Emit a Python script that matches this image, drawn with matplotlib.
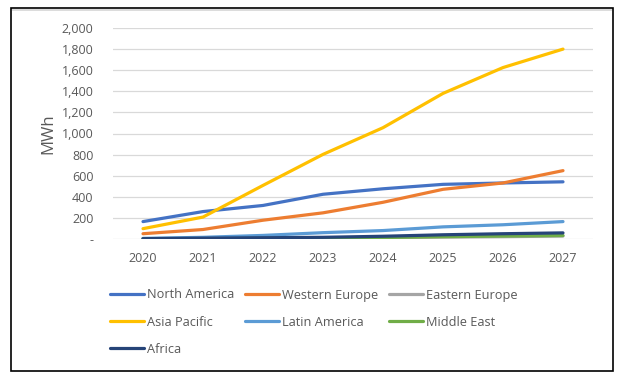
import numpy as np
import matplotlib.pyplot as plt
from matplotlib.patches import Rectangle
from matplotlib.ticker import FuncFormatter

plt.rcParams['font.family'] = ['Open Sans', 'DejaVu Sans']

years = ['2020', '2021', '2022', '2023', '2024', '2025', '2026', '2027']
north_america = [165, 260, 318, 424, 476, 518, 531, 542]
western_europe = [50, 90, 178, 248, 348, 471, 531, 648]
eastern_europe = [2, 4, 6, 8, 12, 18, 22, 28]
asia_pacific = [98, 208, 508, 802, 1055, 1380, 1625, 1800]
latin_america = [6, 16, 34, 60, 80, 115, 135, 165]
middle_east = [1, 3, 5, 8, 14, 22, 28, 33]
africa = [3, 8, 12, 16, 26, 40, 50, 58]

series = [
    ("North America", north_america, '#4472C4'),
    ("Western Europe", western_europe, '#ED7D31'),
    ("Eastern Europe", eastern_europe, '#A5A5A5'),
    ("Asia Pacific", asia_pacific, '#FFC000'),
    ("Latin America", latin_america, '#5B9BD5'),
    ("Middle East", middle_east, '#70AD47'),
    ("Africa", africa, '#264478'),
]

W, H = 624, 376
fig = plt.figure(figsize=(W / 100, H / 100), dpi=100)
ax = fig.add_axes([113 / W, 1 - 239 / H, 480 / W, 211 / H])

x = np.arange(len(years))
lines = []
for name, vals, col in series:
    ln, = ax.plot(x, vals, color=col, lw=2.3, label=name, solid_capstyle='round')
    lines.append(ln)

ax.set_xlim(-0.5, len(years) - 0.5)
ax.set_ylim(0, 2000)
ax.set_yticks(np.arange(0, 2001, 200))
ax.yaxis.set_major_formatter(FuncFormatter(lambda v, p: '-' if v == 0 else f'{int(v):,}'))
ax.set_xticks(x)
ax.set_xticklabels(years)
ax.grid(axis='y', color='#D9D9D9', lw=0.9)
ax.set_axisbelow(True)
for s in ax.spines.values():
    s.set_visible(False)
ax.tick_params(length=0, colors='#595959', labelsize=9)
ax.tick_params(axis='y', pad=14)
ax.tick_params(axis='x', pad=9)
ax.set_ylabel("MWh", color='#595959', fontsize=12, labelpad=4)

# legend filled row by row like Excel
order = [0, 3, 6, 1, 4, 2, 5]
leg = fig.legend([lines[i] for i in order], [series[i][0] for i in order],
                 loc='upper left', bbox_to_anchor=(98 / W, 1 - 277 / H), ncol=3,
                 frameon=False, fontsize=9.2, labelcolor='#595959',
                 handlelength=2.7, handletextpad=0.2, columnspacing=0.85,
                 labelspacing=1.1)

# chart border
fig.patches.append(Rectangle((11 / W, 1 - 371 / H), 602 / W, 363 / H,
                             transform=fig.transFigure, fill=False,
                             edgecolor='black', lw=1.2))
fig.patches.append(Rectangle((12 / W, 1 - 11 / H), 600 / W, 2 / H,
                             transform=fig.transFigure, color='#DCDCDC', lw=0))

fig.savefig("out.png", dpi=100)
